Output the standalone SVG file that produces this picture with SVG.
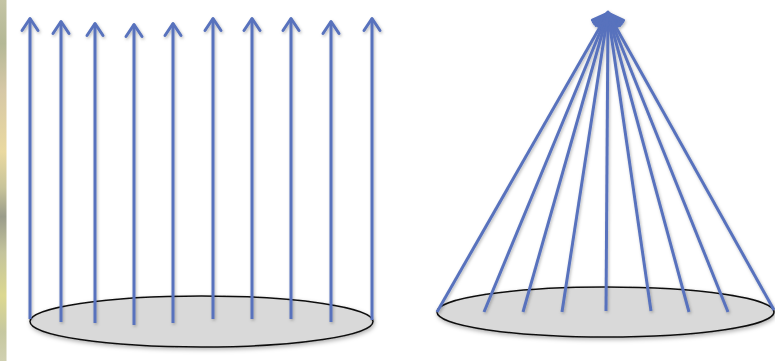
<svg xmlns="http://www.w3.org/2000/svg" width="775" height="361" viewBox="0 0 775 361">
  <defs>
    <linearGradient id="strip" x1="0" y1="0" x2="0" y2="1">
      <stop offset="0" stop-color="#c4c4a4"/>
      <stop offset="0.12" stop-color="#b4b896"/>
      <stop offset="0.25" stop-color="#d6c8a6"/>
      <stop offset="0.42" stop-color="#ead9a0"/>
      <stop offset="0.52" stop-color="#c8c49a"/>
      <stop offset="0.6" stop-color="#9a9c8a"/>
      <stop offset="0.7" stop-color="#c4c49c"/>
      <stop offset="0.82" stop-color="#dcd890"/>
      <stop offset="0.92" stop-color="#c6c8a0"/>
      <stop offset="1" stop-color="#d0d0b0"/>
    </linearGradient>
    <filter id="shadow" x="-50%" y="-10%" width="200%" height="120%">
      <feDropShadow dx="1" dy="1.5" stdDeviation="1.5" flood-color="#000" flood-opacity="0.28"/>
    </filter>
    <filter id="dshadow" x="-10%" y="-50%" width="120%" height="200%">
      <feDropShadow dx="1" dy="2" stdDeviation="2" flood-color="#000" flood-opacity="0.3"/>
    </filter>
    <marker id="head" markerUnits="userSpaceOnUse" markerWidth="30" markerHeight="30" viewBox="-15 -15 30 30" refX="0" refY="0" orient="auto" overflow="visible">
      <path d="M-12,-8 L0,0 L-12,8" fill="none" stroke="#5872bd" stroke-width="3" stroke-linejoin="round" stroke-linecap="round"/>
    </marker>
    <marker id="headBig" markerUnits="userSpaceOnUse" markerWidth="36" markerHeight="36" viewBox="-18 -18 36 36" refX="0" refY="0" orient="auto" overflow="visible">
      <path d="M-14,-10 L0,0 L-14,10" fill="none" stroke="#5872bd" stroke-width="3" stroke-linejoin="round" stroke-linecap="round"/>
    </marker>
  </defs>
  <style>
    .disc { fill: #d9d9d9; stroke: #111; stroke-width: 1.5; }
    .ray { stroke: #5872bd; stroke-width: 3; fill: none; marker-end: url(#head); }
    .cone { marker-end: url(#headBig); }
  </style>
  <rect width="775" height="361" fill="#ffffff"/>
  <rect id="photo-edge" x="0" y="0" width="6.5" height="361" fill="url(#strip)"/>

  <g id="left-disc" filter="url(#dshadow)">
    <ellipse class="disc" cx="201.5" cy="321.5" rx="171.5" ry="25.5"/>
  </g>
  <g id="right-disc" filter="url(#dshadow)">
    <ellipse class="disc" cx="605.5" cy="312" rx="168.5" ry="25"/>
  </g>

  <g id="connectors" filter="url(#shadow)">
    <g id="parallel-rays">
      <line class="ray" x1="30" y1="319" x2="30" y2="18.5"/>
      <line class="ray" x1="61" y1="322" x2="61" y2="21.5"/>
      <line class="ray" x1="95" y1="323" x2="95" y2="23.5"/>
      <line class="ray" x1="134" y1="325" x2="134" y2="24.5"/>
      <line class="ray" x1="173" y1="323" x2="173" y2="23.5"/>
      <line class="ray" x1="213" y1="319" x2="213" y2="18.5"/>
      <line class="ray" x1="252" y1="319" x2="252" y2="18.5"/>
      <line class="ray" x1="291" y1="319" x2="291" y2="18.5"/>
      <line class="ray" x1="331" y1="322" x2="331" y2="21.5"/>
      <line class="ray" x1="372" y1="320" x2="372" y2="18.5"/>
    </g>
    <g id="converging-rays">
      <line class="ray cone" x1="437" y1="312" x2="608" y2="13"/>
      <line class="ray cone" x1="484" y1="312" x2="608" y2="13"/>
      <line class="ray cone" x1="523" y1="312" x2="608" y2="13"/>
      <line class="ray cone" x1="562" y1="312" x2="608" y2="13"/>
      <line class="ray cone" x1="606" y1="311" x2="608" y2="12"/>
      <line class="ray cone" x1="651" y1="311" x2="608" y2="13"/>
      <line class="ray cone" x1="689" y1="312" x2="608" y2="13"/>
      <line class="ray cone" x1="728" y1="312" x2="608" y2="13"/>
      <line class="ray cone" x1="774" y1="310" x2="608" y2="13"/>
    </g>
  </g>
</svg>
